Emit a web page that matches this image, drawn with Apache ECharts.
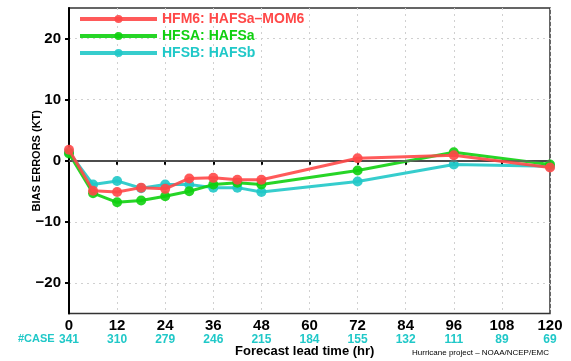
<!DOCTYPE html>
<html><head><meta charset="utf-8">
<script src="https://cdn.jsdelivr.net/npm/echarts@6/dist/echarts.min.js"></script>
<style>html,body{margin:0;padding:0;background:#fff}#c{width:571px;height:361px}</style>
</head><body><div id="c"></div>
<script>
const leadTimes = [0, 6, 12, 18, 24, 30, 36, 42, 48, 72, 96, 120];
const hfm6 = [1.8, -4.9, -5.1, -4.4, -4.6, -2.9, -2.8, -3.1, -3.1, 0.4, 0.9, -1.1];
const hfsa = [1.2, -5.3, -6.8, -6.5, -5.8, -5.0, -3.9, -3.6, -3.9, -1.6, 1.4, -0.6];
const hfsb = [1.4, -3.9, -3.3, -4.5, -3.9, -3.9, -4.4, -4.4, -5.1, -3.4, -0.6, -0.9];
const tickLabels = [0, 12, 24, 36, 48, 60, 72, 84, 96, 108, 120];
const caseCounts = [341, 310, 279, 246, 215, 184, 155, 132, 111, 89, 69];
const yTicks = [-20, -10, 0, 10, 20];
const seriesNames = ['HFM6: HAFSa\u2013MOM6', 'HFSA: HAFSa', 'HFSB: HAFSb'];
const colors = ['#ff4848', '#10d010', '#20c8c8'];
const FONT = 'Liberation Sans';

const chart = echarts.init(document.getElementById('c'), null, {renderer: 'canvas'});
const allData = [hfm6, hfsa, hfsb];
const series = allData.map((vals, i) => ({
  name: seriesNames[i],
  type: 'line',
  data: leadTimes.map((t, j) => [t, vals[j]]),
  symbol: 'circle',
  symbolSize: 10,
  lineStyle: {width: 3, color: colors[i], opacity: 0.9, type: 'solid'},
  itemStyle: {color: colors[i], opacity: 0.9},
  z: 3 + (2 - i),
  animation: false
}));
series.push({
  type: 'line', data: [], silent: true, animation: false,
  markLine: {symbol: 'none', silent: true, label: {show: false},
    lineStyle: {color: '#666', width: 1.5, type: 'solid'},
    data: [{yAxis: 0}]},
  z: 2
});

chart.setOption({
  animation: false,
  grid: {left: 69, right: 21, top: 8, bottom: 47.5, show: true, borderColor: '#333', borderWidth: 1.5},
  legend: {
    orient: 'vertical', left: 78, top: 12, padding: 0, itemWidth: 77, itemHeight: 10, itemGap: 3,
    lineStyle: {width: 4, type: 'solid'},
    data: seriesNames.map((n, i) => ({name: n, textStyle: {color: colors[i]}})),
    textStyle: {fontFamily: FONT, fontWeight: 'bold', fontSize: 14, lineHeight: 12}
  },
  xAxis: {
    type: 'value', min: 0, max: 120, interval: 12,
    axisLine: {lineStyle: {color: '#000', width: 2}},
    axisTick: {show: true, length: 4, lineStyle: {color: '#000', width: 2}},
    splitLine: {show: true, lineStyle: {color: '#d0d0d0', type: [2, 4], width: 1}},
    axisLabel: {
      margin: 5,
      formatter: function (v) {
        const idx = tickLabels.indexOf(v);
        return '{a|' + v + '}\n{b|' + (idx >= 0 ? caseCounts[idx] : '') + '}';
      },
      rich: {
        a: {fontFamily: FONT, fontWeight: 'bold', fontSize: 15, color: '#000', lineHeight: 14},
        b: {fontFamily: FONT, fontWeight: 'bold', fontSize: 12, color: colors[2], lineHeight: 14}
      }
    }
  },
  yAxis: {
    type: 'value', min: -25, max: 25,
    name: 'BIAS ERRORS (KT)', nameLocation: 'middle', nameGap: 27, nameRotate: 90, nameMoveOverlap: false,
    nameTextStyle: {fontFamily: FONT, fontWeight: 'bold', fontSize: 11, color: '#000'},
    axisLine: {lineStyle: {color: '#000', width: 2}},
    axisTick: {show: true, length: 4, customValues: yTicks, lineStyle: {color: '#000', width: 2}},
    splitLine: {show: true, lineStyle: {color: '#d0d0d0', type: [2, 4], width: 1}},
    axisLabel: {fontFamily: FONT, fontWeight: 'bold', fontSize: 15, color: '#000', margin: 8,
      customValues: yTicks,
      formatter: v => (v < 0 ? '\u2212' + Math.abs(v) : '' + v)}
  },
  graphic: [
    {type: 'text', left: 18, top: 333, style: {text: '#CASE', fontFamily: FONT, fontWeight: 'bold', fontSize: 11, fill: colors[2]}},
    {type: 'text', left: 235, top: 345, style: {text: 'Forecast lead time (hr)', fontFamily: FONT, fontWeight: 'bold', fontSize: 13, fill: '#000'}},
    {type: 'text', left: 412, top: 349, style: {text: 'Hurricane project \u2013 NOAA/NCEP/EMC', fontFamily: FONT, fontSize: 8, fill: '#000'}}
  ],
  series: series
});
</script></body></html>
